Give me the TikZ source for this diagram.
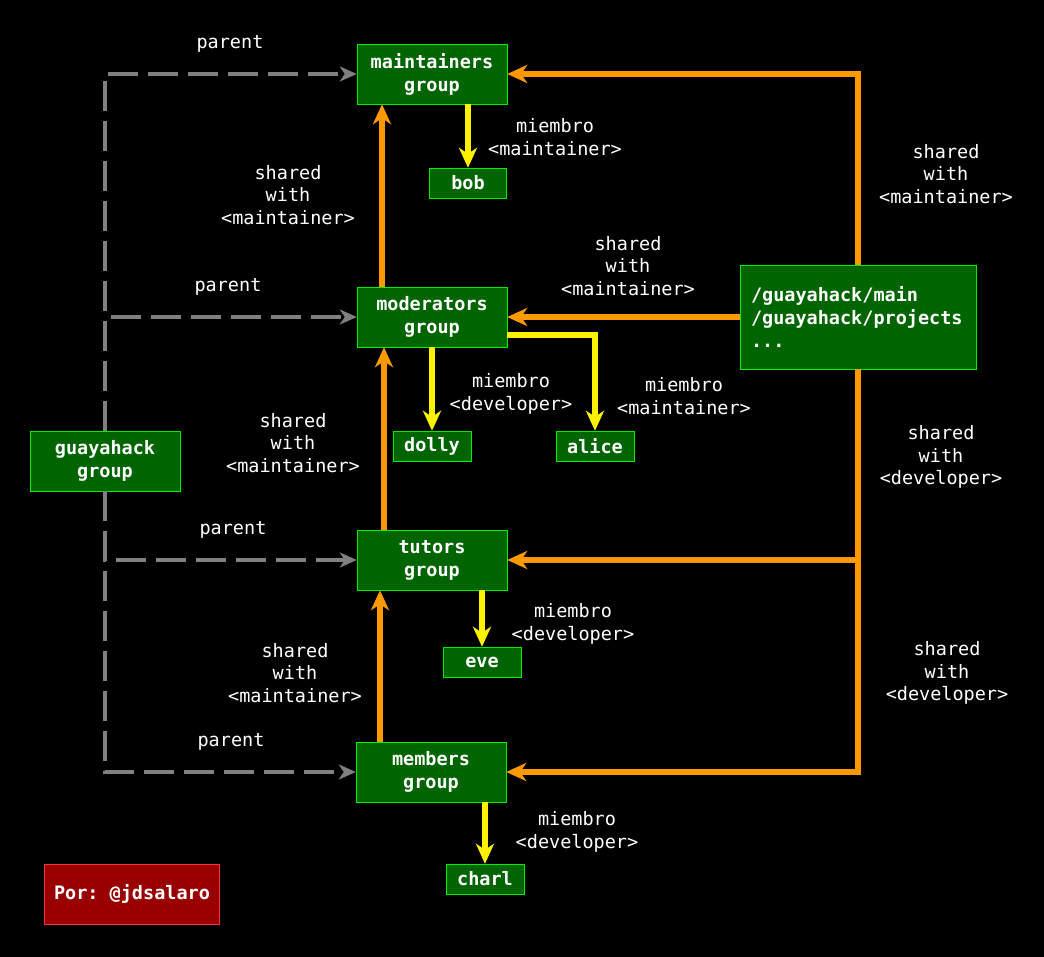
\documentclass[tikz,border=0pt]{standalone}
\usepackage{fontspec}
\setmonofont{DejaVu Sans Mono}
\usetikzlibrary{arrows.meta}

\definecolor{boxgreen}{HTML}{006400}
\definecolor{edgegreen}{HTML}{00EE00}
\definecolor{shareorange}{HTML}{FF9900}
\definecolor{parentgray}{HTML}{808080}
\definecolor{boxred}{HTML}{990000}
\definecolor{edgered}{HTML}{FF3333}

\begin{document}
\begin{tikzpicture}[x=1pt, y=-1pt,
    font=\ttfamily\fontsize{18.5}{22.5}\selectfont,
    group/.style={draw=edgegreen, fill=boxgreen, text=white, font=\ttfamily\bfseries\fontsize{18.5}{23}\selectfont, align=center, minimum width=150pt, minimum height=60pt, inner sep=0pt},
    user/.style={group, minimum width=78pt, minimum height=30pt},
    lbl/.style={text=white, align=center, inner sep=0pt},
    parentline/.style={draw=parentgray, line width=4pt, dash pattern=on 30pt off 10pt, -{Stealth[length=17pt, width=15pt, inset=5pt]}},
    shareline/.style={draw=shareorange, line width=6pt, -{Stealth[length=20pt, width=18pt, inset=6pt]}},
    memberline/.style={draw=yellow, line width=6pt, -{Stealth[length=20pt, width=18pt, inset=6pt]}}]

        \fill [black] (0,0) rectangle (1044,957);
        \useasboundingbox (0,0) rectangle (1044,957);

        \node [group] (maint) at (432,74) {maintainers\\group};
        \node [group] (mod) at (432,317) {moderators\\group};
        \node [group] (tut) at (432,560) {tutors\\group};
        \node [group] (memb) at (431,772) {members\\group};
        \node [group] (guay) at (105,461) {guayahack\\group};
        \node [group, minimum width=236pt, minimum height=104pt, align=left, text width=214pt] (repo) at (858,317) {/guayahack/main\\/guayahack/projects\\...};

        \node [user, minimum width=77pt] (bob) at (468,183) {bob};
        \node [user] (dolly) at (432,446) {dolly};
        \node [user] (alice) at (595,446) {alice};
        \node [user] (eve) at (482,662) {eve};
        \node [user] (charl) at (485,879) {charl};

        \node [group, draw=edgered, fill=boxred, minimum width=175pt] (author) at (132,894) {Por: @jdsalaro};

        \draw [parentline] (guay.north) |- (maint.west);
        \draw [parentline] (guay.north) |- (mod.west);
        \draw [parentline] (guay.south) |- (tut.west);
        \draw [parentline] (guay.south) |- (memb.west);

        \draw [shareline] ([xshift=-50pt]mod.north) -- ([xshift=-50pt]maint.south);
        \draw [shareline] ([xshift=-48pt]tut.north) -- ([xshift=-48pt]mod.south);
        \draw [shareline] ([xshift=-51pt]memb.north) -- ([xshift=-52pt]tut.south);
        \draw [shareline] (repo.north) |- (maint.east);
        \draw [shareline] (repo.west) -- (mod.east);
        \draw [shareline] (repo.south) |- (tut.east);
        \draw [shareline] (repo.south) |- (memb.east);

        \draw [memberline] (maint.south -| bob.north) -- (bob.north);
        \draw [memberline] (mod.south) -- (dolly.north);
        \draw [memberline] ([yshift=-18pt]mod.east) -| (alice.north);
        \draw [memberline] (tut.south -| eve.north) -- (eve.north);
        \draw [memberline] (memb.south -| charl.north) -- (charl.north);

        \foreach \x/\y in {230/44, 228/287, 233/530, 231/742}
        {
            \node [lbl] at (\x,\y) {parent};
        }

        \node [lbl] at (555,137) {miembro\\<maintainer>};
        \node [lbl] at (511,394) {miembro\\<developer>};
        \node [lbl] at (684,396) {miembro\\<maintainer>};
        \node [lbl] at (573,624) {miembro\\<developer>};
        \node [lbl] at (577,832) {miembro\\<developer>};

        \node [lbl] at (288,195) {shared\\with\\<maintainer>};
        \node [lbl] at (628,266) {shared\\with\\<maintainer>};
        \node [lbl] at (946,174) {shared\\with\\<maintainer>};
        \node [lbl] at (293,443) {shared\\with\\<maintainer>};
        \node [lbl] at (295,673) {shared\\with\\<maintainer>};
        \node [lbl] at (941,457) {shared\\with\\<developer>};
        \node [lbl] at (947,673) {shared\\with\\<developer>};
    \end{tikzpicture}
\end{document}
